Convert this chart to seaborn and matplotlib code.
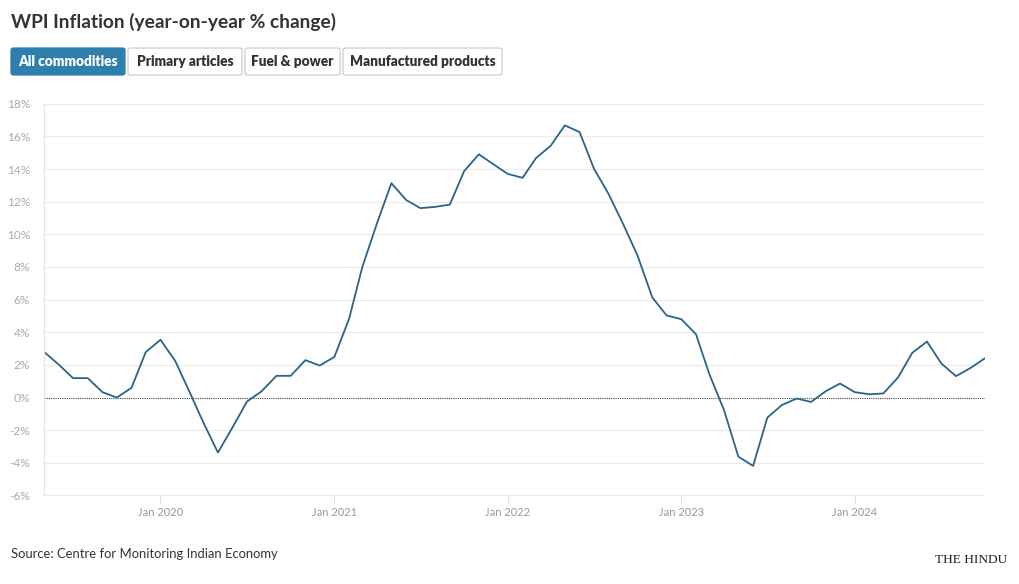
import numpy as np
import pandas as pd
import seaborn as sns
import matplotlib.pyplot as plt
import matplotlib.dates as mdates
from matplotlib.patches import FancyBboxPatch

# Datos: inflación WPI mensual (año contra año, %), mayo 2019 - octubre 2024
start_month = "2019-05-01"
wpi_values = [
    2.80, 2.02, 1.19, 1.19, 0.33, 0.00, 0.59, 2.78,          # may-dic 2019
    3.54, 2.25, 0.42, -1.57, -3.37, -1.81, -0.25, 0.39,      # ene-ago 2020
    1.33, 1.33, 2.29, 1.96,                                  # sep-dic 2020
    2.49, 4.83, 8.02, 10.70, 13.13, 12.10, 11.60, 11.68,     # 2021
    11.82, 13.87, 14.90, 14.30,
    13.70, 13.46, 14.66, 15.42, 16.67, 16.26, 14.03, 12.47,  # 2022
    10.60, 8.69, 6.13, 5.03,
    4.80, 3.87, 1.43, -0.78, -3.62, -4.19, -1.23, -0.45,     # 2023
    -0.06, -0.27, 0.39, 0.86,
    0.33, 0.20, 0.25, 1.23, 2.74, 3.43, 2.09, 1.31,          # 2024
    1.82, 2.41,
]
y_ticks = list(range(-6, 19, 2))
x_tick_years = [2020, 2021, 2022, 2023, 2024]
buttons = ["All commodities", "Primary articles", "Fuel & power", "Manufactured products"]

dates = pd.date_range(start_month, periods=len(wpi_values), freq="MS")
df = pd.DataFrame({"fecha": dates, "wpi": wpi_values})

sns.set_style("white")
plt.rcParams['font.family'] = ['Lato', 'DejaVu Sans']

W, H = 1020, 584
fig = plt.figure(figsize=(W / 100, H / 100), dpi=100)
ax = fig.add_axes([44 / W, 1 - 495.5 / H, (985 - 44) / W, (495.5 - 103.7) / H])

sns.lineplot(data=df, x="fecha", y="wpi", ax=ax, color="#2b6488", linewidth=1.3)

ax.set_ylim(-6, 18)
ax.set_xlim(dates[0], dates[-1])
ax.set_yticks(y_ticks)
ax.set_yticklabels([f"{v}%" for v in y_ticks])
ax.set_xticks([pd.Timestamp(f"{y}-01-01") for y in x_tick_years])
ax.xaxis.set_major_formatter(mdates.DateFormatter("%b %Y"))
ax.set_xlabel("")
ax.set_ylabel("")

for v in y_ticks:
    if v != 0:
        ax.axhline(v, color="#ebebeb", linewidth=0.9, zorder=0)
ax.axhline(0, color="#444444", linewidth=0.8, linestyle=(0, (1, 1)), zorder=1)

for side in ["top", "right", "bottom"]:
    ax.spines[side].set_visible(False)
ax.spines["left"].set_color("#e6e6e6")
ax.spines["left"].set_linewidth(0.9)

ax.tick_params(axis="y", length=0, pad=10, labelsize=8.6, labelcolor="#aaaaaa")
ax.tick_params(axis="x", length=5, width=0.8, color="#e0e0e0", pad=3,
               labelsize=8, labelcolor="#999999", bottom=True)

# Título
fig.text(11 / W, 1 - 22 / H, "WPI Inflation (year-on-year % change)",
         fontsize=13.8, fontweight="bold", color="#333333", va="center", ha="left")

# Botones
btn_x = [(11, 125), (128, 242), (245, 340), (343, 502)]
for i, (label, (x0, x1)) in enumerate(zip(buttons, btn_x)):
    activo = i == 0
    rect = FancyBboxPatch((x0 / W, 1 - 75 / H), (x1 - x0) / W, 27 / H,
                          boxstyle="round,pad=0,rounding_size=0.003",
                          transform=fig.transFigure,
                          facecolor="#2e7fad" if activo else "white",
                          edgecolor="#2e7fad" if activo else "#cccccc",
                          linewidth=0.9)
    fig.patches.append(rect)
    fig.text((x0 + x1) / 2 / W, 1 - 62 / H, label, ha="center", va="center",
             fontsize=9.8, fontweight="heavy",
             color="white" if activo else "#333333")

# Fuente y logo
fig.text(11 / W, 1 - 554 / H, "Source: Centre for Monitoring Indian Economy",
         fontsize=9.4, color="#333333", va="center", ha="left")
fig.text(971 / W, 1 - 560 / H, "THE HINDU", fontsize=9.6, color="#222222",
         family="Liberation Serif", ha="center", va="center")

fig.savefig("out.png", dpi=100, facecolor="white")
